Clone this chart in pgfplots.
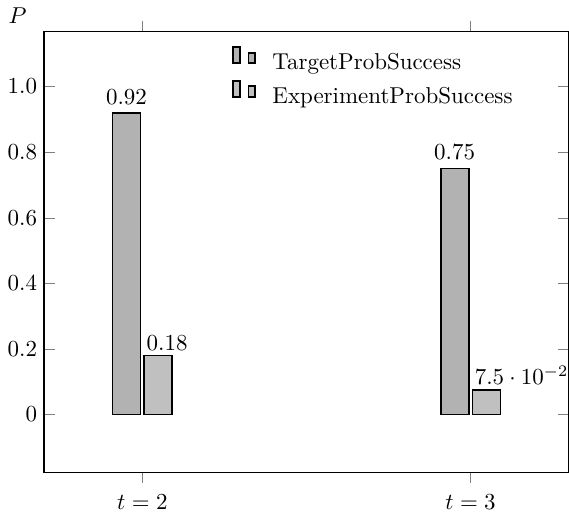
\documentclass[border=0pt]{standalone}
\usepackage{pgfplots}
\pgfplotsset{compat=1.18}
\definecolor{barA}{RGB}{178,178,178}
\definecolor{barB}{RGB}{192,192,192}
\begin{document}
\begin{tikzpicture}[trim axis right]
\begin{axis}[
  scale only axis,
  width=228.7pt, height=192pt,
  ybar=1.7pt, bar width=12.2pt,
  xmin=1.7, xmax=3.3,
  ymin=-0.176, ymax=1.168,
  xtick={2,3}, xticklabels={$t=2$,$t=3$},
  ytick={0,0.2,0.4,0.6,0.8,1.0},
  yticklabels={$0$,$0.2$,$0.4$,$0.6$,$0.8$,$1.0$},
  xtick align=outside, ytick align=inside,
  major tick length=4.6pt,
  axis line style={line width=0.6pt},
  xticklabel style={yshift=-1.5pt},
  yticklabel style={xshift=0.5pt},
  ylabel={$P$},
  ylabel style={rotate=-90, at={(axis description cs:-0.05,1.0)}, anchor=south},
  legend style={draw=none, fill=none, at={(0.345,0.978)}, anchor=north west, row sep=1pt, column sep=5pt},
  legend image code/.code={
    \draw[#1, bar width=3pt, bar shift=0pt] plot coordinates {(0pt,7pt) (6.6pt,4.6pt)};
  },
  legend cell align=left,
]
\addplot[draw=black, line width=0.8pt, fill=barA,
  nodes near coords, nodes near coords align={vertical}] coordinates {(2,0.92) (3,0.75)};
\addplot[draw=black, line width=0.8pt, fill=barB,
  nodes near coords, every node near coord/.append style={anchor=south west, xshift=-8.8pt, yshift=-1.5pt}] coordinates {(2,0.18) (3,0.075)};
\legend{TargetProbSuccess, ExperimentProbSuccess}
\end{axis}
\end{tikzpicture}
\end{document}
